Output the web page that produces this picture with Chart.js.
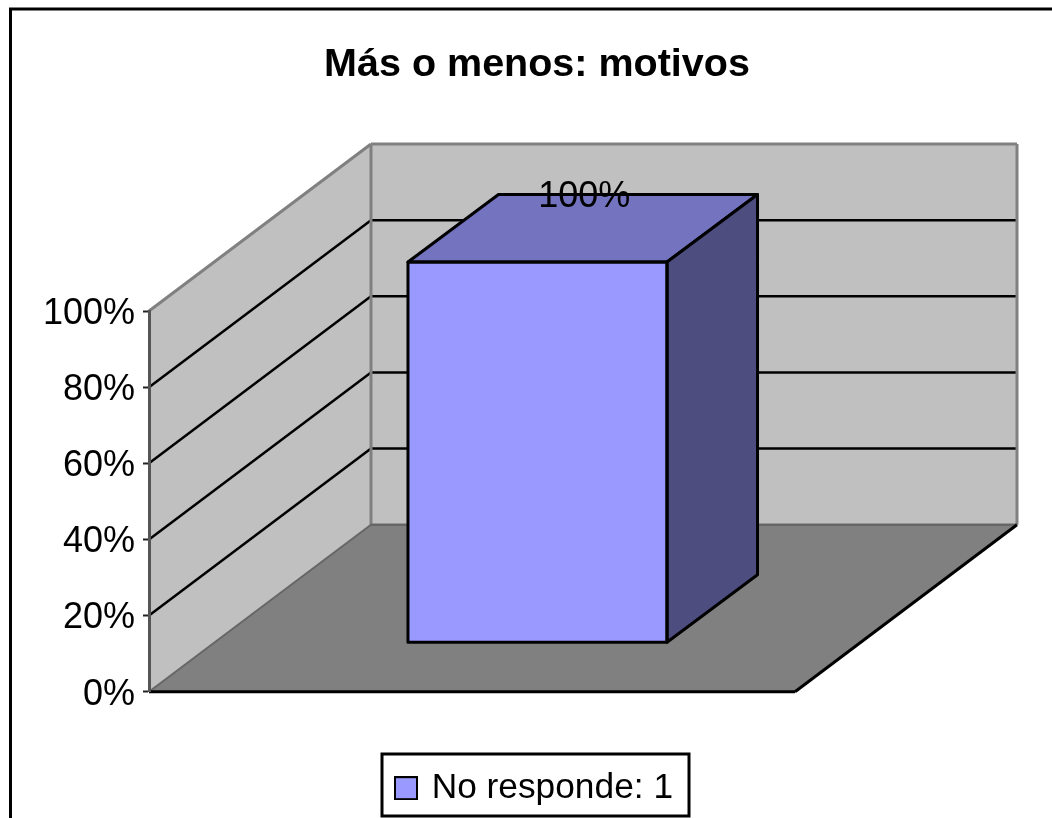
<!DOCTYPE html>
<html>
<head>
<meta charset="utf-8">
<style>
html,body{margin:0;padding:0;background:#fff;overflow:hidden}
#wrap{width:1052px;height:818px;position:relative}
</style>
<script src="https://cdn.jsdelivr.net/npm/chart.js@4/dist/chart.umd.min.js"></script>
</head>
<body>
<div id="wrap"><canvas id="c" width="1052" height="818"></canvas></div>
<script>
const chartTitle = 'Más o menos: motivos';
const categories = ['Más o menos'];
const seriesName = 'No responde: 1';
const seriesValues = [1];
const valueLabels = ['100%'];
const tickValues = [0, 0.2, 0.4, 0.6, 0.8, 1];
const tickLabels = ['0%', '20%', '40%', '60%', '80%', '100%'];

const FONT = '"Liberation Sans", Arial, sans-serif';
Chart.defaults.font.family = FONT;
Chart.defaults.color = '#000';

/* Oblique projection of the 3D look */
const WALL = {dx: 222, dy: -167};     // floor depth
const BAR_SHIFT = {dx: 65.5, dy: -49}; // bar front plane, from the axis plane
const BAR_DEPTH = {dx: 90.5, dy: -67.5};   // bar depth

function poly(ctx, pts, fill, stroke, lw) {
  ctx.beginPath();
  pts.forEach((p, i) => i ? ctx.lineTo(p[0], p[1]) : ctx.moveTo(p[0], p[1]));
  ctx.closePath();
  if (fill) { ctx.fillStyle = fill; ctx.fill(); }
  if (stroke) { ctx.strokeStyle = stroke; ctx.lineWidth = lw; ctx.lineJoin = 'round'; ctx.stroke(); }
}
function seg(ctx, x1, y1, x2, y2, stroke, lw) {
  ctx.beginPath(); ctx.moveTo(x1, y1); ctx.lineTo(x2, y2);
  ctx.strokeStyle = stroke; ctx.lineWidth = lw; ctx.stroke();
}

/* legend swatch */
const swatch = document.createElement('canvas');
swatch.width = 24; swatch.height = 24;
(function () {
  const s = swatch.getContext('2d');
  s.fillStyle = '#9999FF'; s.fillRect(1, 1, 22, 22);
  s.strokeStyle = '#000'; s.lineWidth = 2; s.strokeRect(1, 1, 22, 22);
})();

const scene3d = {
  id: 'scene3d',
  afterLayout(chart) {
    const t = chart.titleBlock;
    t.left = 0; t.right = 1074;
    const l = chart.legend;
    const p = l.options.labels.padding;
    l.left = 398 - p; l.right = 689; l.top = 760.5; l.bottom = 816;
  },
  beforeDraw(chart) {
    const ctx = chart.ctx, a = chart.chartArea, y = chart.scales.y;
    const x0 = a.left, x1 = a.right, yb = a.bottom, yt = a.top;
    const dx = WALL.dx, dy = WALL.dy;
    ctx.save();
    // outer frame: left and top edges only, the rest is cropped away
    ctx.strokeStyle = '#000'; ctx.lineWidth = 3;
    ctx.beginPath();
    ctx.moveTo(10.5, 830); ctx.lineTo(10.5, 9); ctx.lineTo(1060, 9);
    ctx.stroke();
    // floor
    poly(ctx, [[x0, yb], [x0 + dx, yb + dy], [x1 + dx, yb + dy], [x1, yb]], '#808080');
    // back wall and side wall
    poly(ctx, [[x0 + dx, yt + dy], [x1 + dx, yt + dy], [x1 + dx, yb + dy], [x0 + dx, yb + dy]], '#C0C0C0');
    poly(ctx, [[x0, yb], [x0 + dx, yb + dy], [x0 + dx, yt + dy], [x0, yt]], '#C0C0C0');
    // gridlines
    tickValues.slice(1, -1).forEach(v => {
      const py = y.getPixelForValue(v);
      seg(ctx, x0, py, x0 + dx, py + dy, '#000', 2.5);
      seg(ctx, x0 + dx, py + dy, x1 + dx, py + dy, '#000', 2.5);
    });
    // wall outlines
    ctx.lineCap = 'butt';
    seg(ctx, x0, yt, x0 + dx, yt + dy, '#808080', 3);
    seg(ctx, x0 + dx, yt + dy, x1 + dx, yt + dy, '#808080', 3);
    seg(ctx, x1 + dx, yt + dy, x1 + dx, yb + dy, '#808080', 3);
    seg(ctx, x0 + dx, yt + dy, x0 + dx, yb + dy, '#808080', 3);
    seg(ctx, x0 + dx, yb + dy, x1 + dx, yb + dy, '#666666', 2.5);
    seg(ctx, x0, yb, x0 + dx, yb + dy, '#666666', 2);
    // floor front and right edges
    seg(ctx, x0, yb, x1, yb, '#000', 3);
    seg(ctx, x1, yb, x1 + dx, yb + dy, '#000', 3);
    // legend box
    ctx.strokeStyle = '#000'; ctx.lineWidth = 3;
    ctx.strokeRect(382, 754, 307, 62);
    ctx.restore();
  },
  beforeDatasetsDraw(chart) {
    const ctx = chart.ctx;
    ctx.save();
    ctx.translate(BAR_SHIFT.dx, BAR_SHIFT.dy);
  },
  afterDatasetsDraw(chart) {
    const ctx = chart.ctx;
    ctx.restore();
    const meta = chart.getDatasetMeta(0);
    meta.data.forEach((bar, i) => {
      const p = bar.getProps(['x', 'y', 'base', 'width'], true);
      const l = p.x - p.width / 2 + BAR_SHIFT.dx;
      const r = p.x + p.width / 2 + BAR_SHIFT.dx;
      const t = p.y + BAR_SHIFT.dy;
      const b = p.base + BAR_SHIFT.dy;
      const dx = BAR_DEPTH.dx, dy = BAR_DEPTH.dy;
      ctx.save();
      poly(ctx, [[l, t], [r, t], [r + dx, t + dy], [l + dx, t + dy]], '#7373BF', '#000', 3);
      poly(ctx, [[r, t], [r + dx, t + dy], [r + dx, b + dy], [r, b]], '#4D4D80', '#000', 3);
      poly(ctx, [[l, t], [r, t], [r, b], [l, b]], null, '#000', 3);
      ctx.fillStyle = '#000';
      ctx.font = '36px ' + FONT;
      ctx.textAlign = 'center';
      ctx.textBaseline = 'middle';
      ctx.fillText(valueLabels[i], (l + r) / 2 + dx / 2 + 1.5, t + dy + 3);
      ctx.restore();
    });
  }
};

new Chart(document.getElementById('c'), {
  type: 'bar',
  data: {
    labels: categories,
    datasets: [{
      label: seriesName,
      data: seriesValues,
      backgroundColor: '#9999FF',
      borderWidth: 0,
      categoryPercentage: 0.401,
      barPercentage: 1,
      clip: false
    }]
  },
  options: {
    responsive: false,
    animation: false,
    events: [],
    layout: {padding: {left: 0, right: 257, top: 0, bottom: 71}},
    scales: {
      x: {display: false, grid: {display: false}},
      y: {
        min: 0, max: 1,
        afterFit(s) { s.width = 149; },
        afterBuildTicks(s) { s.ticks = tickValues.map(v => ({value: v})); },
        grid: {drawOnChartArea: false, drawTicks: true, tickLength: 6, tickColor: '#222', tickWidth: 2},
        border: {display: true, color: '#555555', width: 3},
        ticks: {
          padding: 8,
          labelOffset: 3,
          autoSkip: false,
          font: {size: 36},
          color: '#000',
          callback: (v, i) => tickLabels[i]
        }
      }
    },
    plugins: {
      tooltip: {enabled: false},
      title: {
        display: true,
        text: chartTitle,
        color: '#000',
        font: {size: 39.5, weight: 'bold', lineHeight: 1.2},
        padding: {top: 41, bottom: 222.6}
      },
      legend: {
        display: true,
        position: 'bottom',
        align: 'start',
        labels: {
          font: {size: 35.3},
          color: '#000',
          padding: 10,
          boxHeight: 29,
          usePointStyle: true,
          pointStyle: swatch,
          pointStyleWidth: 16
        }
      }
    }
  },
  plugins: [scene3d]
});
</script>
</body>
</html>
